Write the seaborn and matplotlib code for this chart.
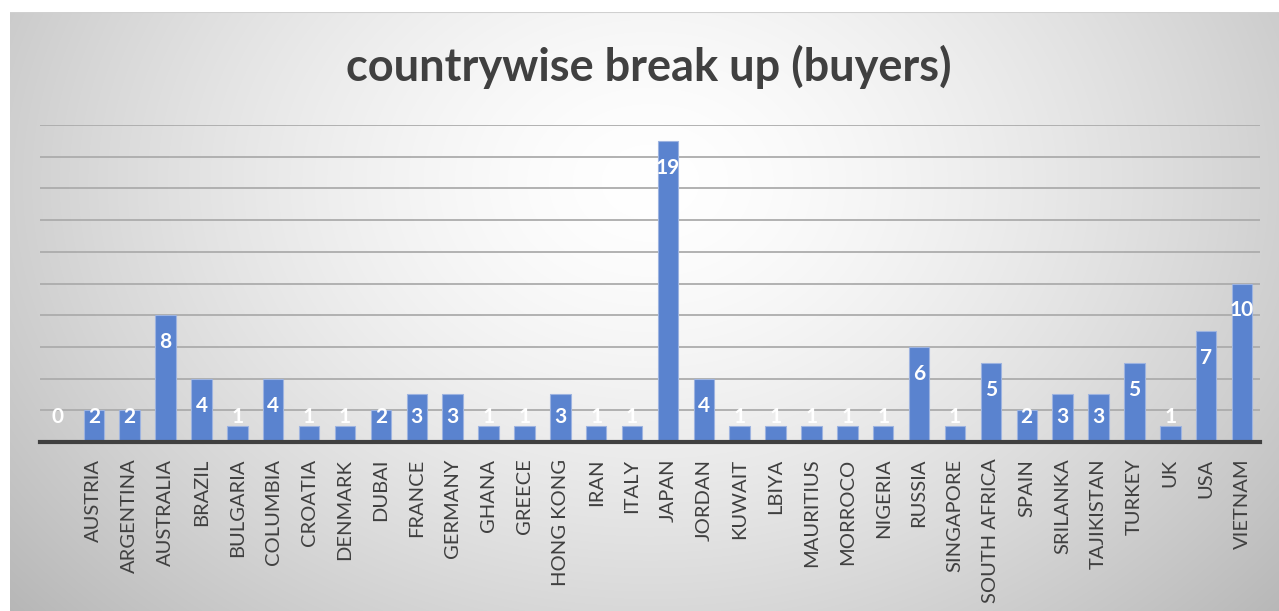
import matplotlib
matplotlib.use("Agg")

import matplotlib.pyplot as plt
import seaborn as sns
import numpy as np
import pandas as pd

# 国別バイヤー数
countries = [
    "", "AUSTRIA", "ARGENTINA", "AUSTRALIA", "BRAZIL", "BULGARIA", "COLUMBIA",
    "CROATIA", "DENMARK", "DUBAI", "FRANCE", "GERMANY", "GHANA", "GREECE",
    "HONG KONG", "IRAN", "ITALY", "JAPAN", "JORDAN", "KUWAIT", "LBIYA",
    "MAURITIUS", "MORROCO", "NIGERIA", "RUSSIA", "SINGAPORE", "SOUTH AFRICA",
    "SPAIN", "SRILANKA", "TAJIKISTAN", "TURKEY", "UK", "USA", "VIETNAM",
]
buyers = [
    0, 2, 2, 8, 4, 1, 4,
    1, 1, 2, 3, 3, 1, 1,
    3, 1, 1, 19, 4, 1, 1,
    1, 1, 1, 6, 1, 5,
    2, 3, 3, 5, 1, 7, 10,
]

df = pd.DataFrame({"country": countries, "buyers": buyers})

sns.set_theme(style="white")
plt.rcParams["font.family"] = ["Lato", "DejaVu Sans"]

W, H = 1279, 611
fig = plt.figure(figsize=(W / 100, H / 100), dpi=100)
fig.patch.set_facecolor("white")

# 背景のラジアルグラデーション
bg = fig.add_axes([10 / W, 0, 1 - 10 / W, 1 - 12 / H])
yy, xx = np.mgrid[0:600, 0:1269]
cx, cy = 640, 170
r = np.sqrt(((xx - cx) / 780.0) ** 2 + ((yy - cy) / 600.0) ** 2)
g = 1.0 - 0.25 * np.clip(r, 0, 1.2) ** 1.5
img = np.dstack([g, g, g])
bg.imshow(img, aspect="auto", interpolation="bilinear")
bg.axhline(0, color="#d0d0d0", lw=1.5)
bg.set_axis_off()
bg.set_zorder(0)

ax = fig.add_axes([40 / W, 1 - 442 / H, 1220 / W, 317 / H])
ax.set_zorder(1)
ax.patch.set_alpha(0)

sns.barplot(
    data=df, x="country", y="buyers", ax=ax,
    color="#5a83cf", saturation=1, width=0.57,
    edgecolor="#9db3e0", linewidth=0.8, zorder=3,
)

ax.set_ylim(0, 20)
ax.set_xlim(-0.5, len(countries) - 0.5)
ax.set_yticks(np.arange(2, 21, 2))
ax.yaxis.grid(True, color="#acacac", linewidth=1.3, zorder=0)
ax.set_axisbelow(True)
ax.tick_params(axis="y", left=False, labelleft=False)
ax.tick_params(axis="x", bottom=False, pad=6)
for lab in ax.get_xticklabels():
    lab.set_rotation(90)
    lab.set_fontsize(14.5)
    lab.set_color("#404040")
for s in ["top", "right", "left"]:
    ax.spines[s].set_visible(False)
ax.spines["bottom"].set_color("#404040")
ax.spines["bottom"].set_linewidth(3)
ax.spines["bottom"].set_zorder(4)
ax.set_xlabel("")
ax.set_ylabel("")

# データラベル（内側上端）
for i, v in enumerate(buyers):
    ax.text(i, max(v - 1.7, 1.58), str(v), ha="center", va="center",
            color="white", fontsize=15, fontweight="bold", zorder=5)

fig.text(0.507, 1 - 67 / H, "countrywise break up (buyers)", ha="center",
         va="center", fontsize=32.5, fontweight="bold", color="#404040")

fig.savefig("out.png", dpi=100)
